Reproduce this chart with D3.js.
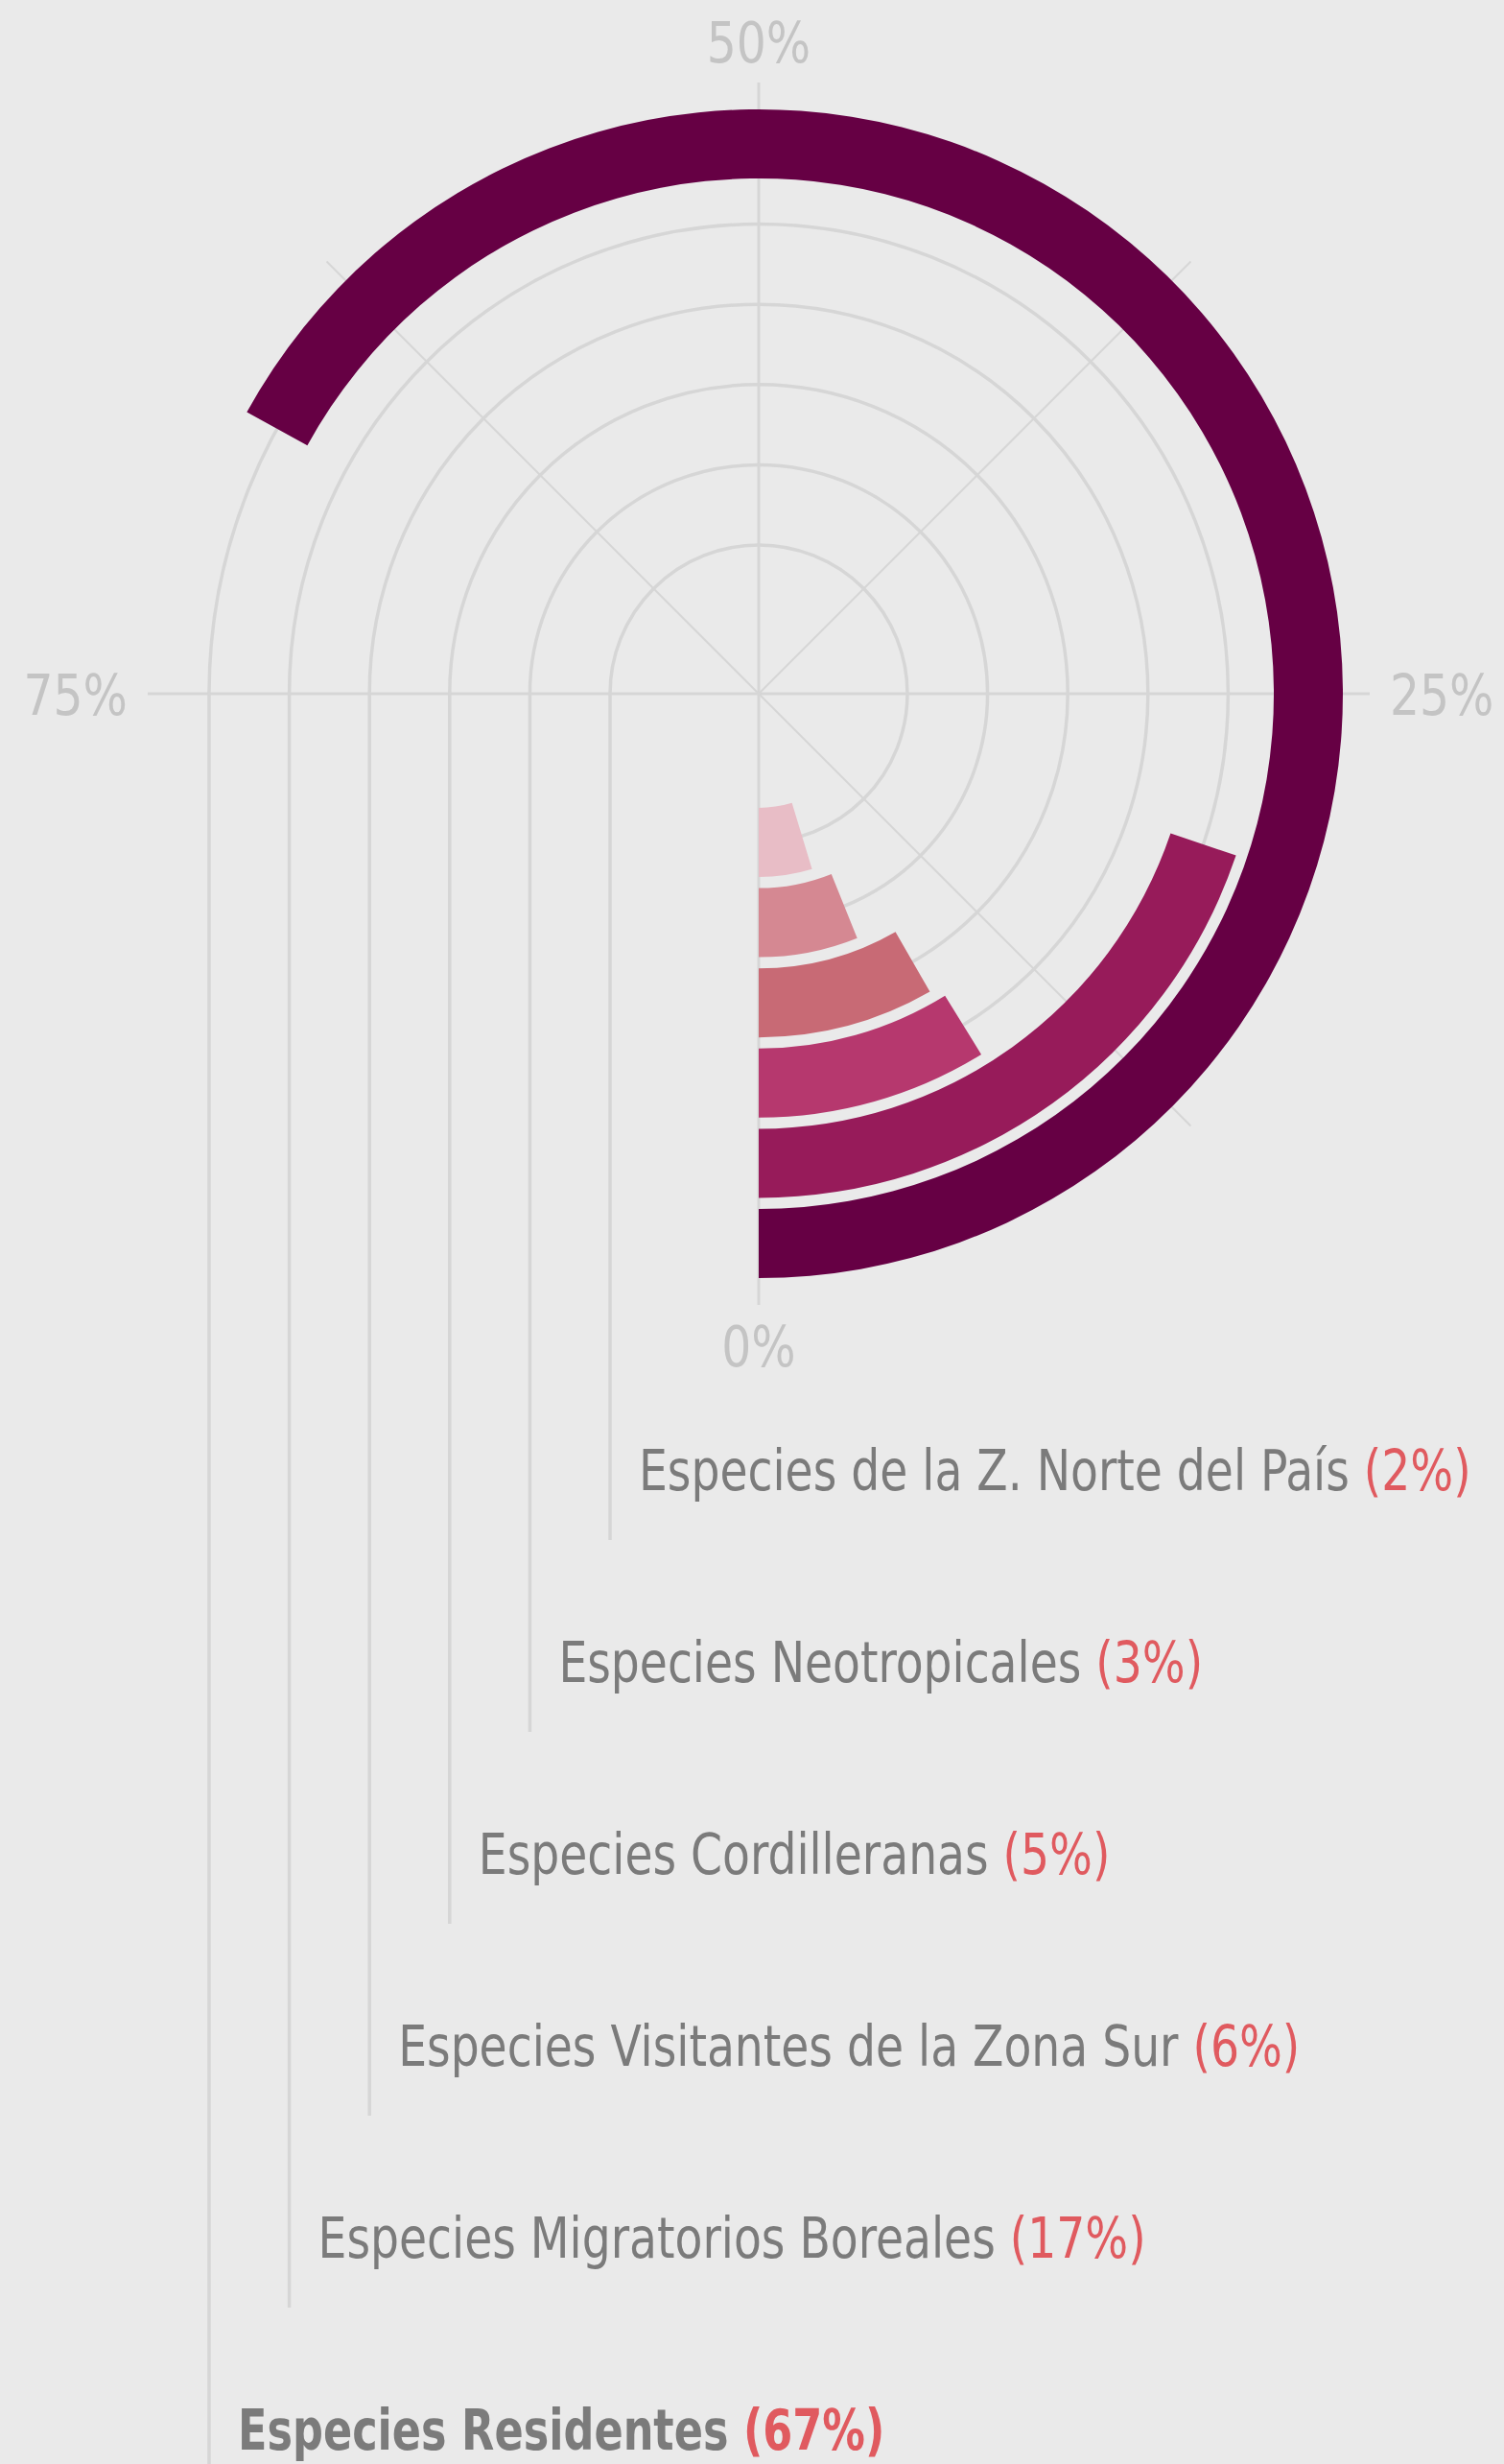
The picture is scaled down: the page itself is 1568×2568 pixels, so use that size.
<!DOCTYPE html>
<html>
<head>
<meta charset="utf-8">
<script src="https://cdn.jsdelivr.net/npm/d3@7"></script>
<style>
  html, body { margin: 0; padding: 0; background: #eaeaea; }
  svg { display: block; }
  text { font-family: "Liberation Sans Narrow", "DejaVu Sans Condensed", "Roboto", sans-serif; }
</style>
</head>
<body>
<div id="graphic"></div>
<script>
// categories, innermost ring first
const categories = [
    "Especies de la Z. Norte del País",
    "Especies Neotropicales",
    "Especies Cordilleranas",
    "Especies Visitantes de la Zona Sur",
    "Especies Migratorios Boreales",
    "Especies Residentes"
];
// share printed in the labels
const shares = [2, 3, 5, 6, 17, 67];
// sweep of each ring as drawn (percent of full circle)
const arcValues = [4.7, 6.1, 8.3, 8.8, 19.8, 67];
const colours = ["#e8bdc6", "#d58892", "#c86a75", "#b6386e", "#971b5a", "#660044"];
const axisTicks = [0, 25, 50, 75];
const diagonalTicks = [12.5, 37.5, 62.5];

const width = 1568, height = 2568;
const cx = 791, cy = 723;
const axisLength = 637;
const labelTop = 1553, labelStep = 200;
// the original face is narrower than the installed condensed one
const squash = 0.89, squashBold = 0.84, squashAxis = 0.92;

const data = categories.map((name, i) => ({ name, share: shares[i], value: arcValues[i], colour: colours[i] }));

const svg = d3.select('#graphic')
    .append('svg')
    .attr('width', width)
    .attr('height', height);

const g = svg.append('g').attr('transform', `translate(${cx},${cy})`);

// radius of each ring
const r = d3.scaleBand()
    .domain(categories)
    .range([119, 609])
    .paddingInner(0.139)
    .paddingOuter(0);

// d3.arc angles: 0% at the bottom, going right, up, left
const angle = d3.scaleLinear().domain([0, 100]).range([Math.PI, -Math.PI]);

// radial grid lines
g.append('g')
    .selectAll('line')
    .data(axisTicks.concat(diagonalTicks))
    .join('line')
    .attr('x1', 0).attr('y1', 0)
    .attr('x2', (d) => Math.sin(angle(d)) * axisLength)
    .attr('y2', (d) => -Math.cos(angle(d)) * axisLength)
    .attr('stroke', '#d6d6d6')
    .attr('stroke-width', (d) => diagonalTicks.includes(d) ? 2 : 3);

// ring grid lines that turn into leader lines for the labels
g.append('g')
    .selectAll('path')
    .data(data)
    .join('path')
    .attr('fill', 'none')
    .attr('stroke', '#d6d6d6')
    .attr('stroke-width', 3.5)
    .attr('d', (d, i) => {
        const rad = r(d.name) + r.bandwidth() / 2;
        const p = d3.path();
        p.moveTo(0, rad);
        p.arc(0, 0, rad, Math.PI / 2, -Math.PI, true);
        const end = i === data.length - 1 ? height - cy + 10 : labelTop + i * labelStep + 52 - cy;
        p.lineTo(-rad, end);
        return p.toString();
    });

// bars
const arc = d3.arc()
    .innerRadius((d) => r(d.name))
    .outerRadius((d) => r(d.name) + r.bandwidth())
    .startAngle(angle(0))
    .endAngle((d) => angle(d.value));

g.append('g')
    .selectAll('path')
    .data(data)
    .join('path')
    .attr('fill', (d) => d.colour)
    .attr('d', arc);

// axis percentage labels
const labelR = axisLength + 21;
const capH = 43;
g.append('g')
    .selectAll('text')
    .data(axisTicks)
    .join('text')
    .attr('transform', (d) => {
        const x = Math.sin(angle(d)) * labelR;
        const y = -Math.cos(angle(d)) * labelR + capH / 2 - Math.cos(angle(d)) * capH / 2;
        return `translate(${x},${y}) scale(${squashAxis},1)`;
    })
    .attr('text-anchor', (d) => {
        const s = Math.sin(angle(d));
        return s > 0.5 ? 'start' : s < -0.5 ? 'end' : 'middle';
    })
    .attr('font-size', 59)
    .attr('fill', '#c4c4c4')
    .text((d) => d + '%');

// category labels
const labels = svg.append('g')
    .selectAll('text')
    .data(data)
    .join('text')
    .attr('transform', (d, i) => {
        const x = cx - (r(d.name) + r.bandwidth() / 2) + 30;
        const y = labelTop + i * labelStep;
        const s = i === data.length - 1 ? squashBold : squash;
        return `translate(${x},${y}) scale(${s},1)`;
    })
    .attr('font-size', 59)
    .attr('font-weight', (d, i) => i === data.length - 1 ? 'bold' : 'normal');

labels.append('tspan')
    .attr('fill', '#7b7b7b')
    .text((d) => d.name + ' ');

labels.append('tspan')
    .attr('fill', '#e05a5f')
    .text((d) => `(${d.share}%)`);
</script>
</body>
</html>
